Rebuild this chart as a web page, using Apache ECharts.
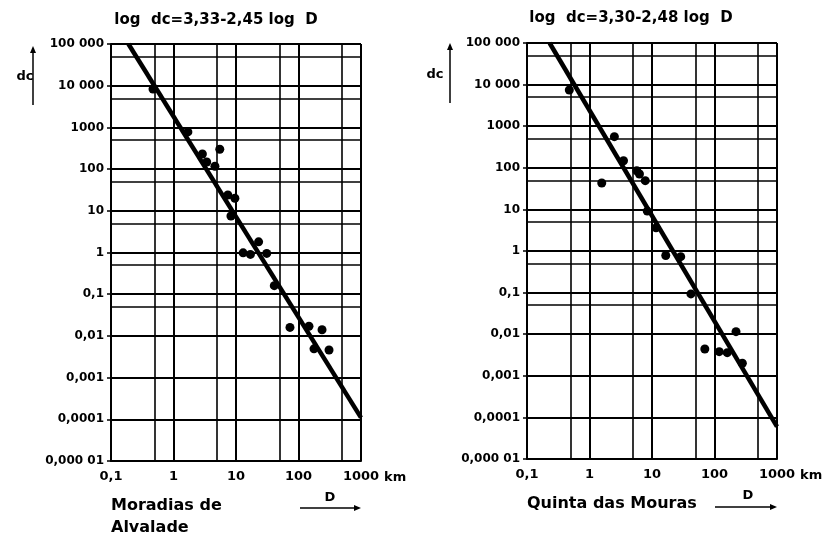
<!DOCTYPE html>
<html>
<head>
<meta charset="utf-8">
<script src="https://cdn.jsdelivr.net/npm/echarts@6/dist/echarts.min.js"></script>
<style>
  html, body { margin: 0; padding: 0; background: #fff; }
  #main { width: 826px; height: 537px; }
</style>
</head>
<body>
<div id="main"></div>
<script>
// Moradias de Alvalade: distance D (km), dc
var moradiasD  = [0.47, 1.7, 2.9, 3.4, 4.6, 5.5, 7.4, 9.6, 8.3, 13, 17, 23, 31, 41, 73, 147, 238, 177, 308]
var moradiasDc = [8300, 780, 230, 148, 117, 300, 24, 20, 7.5, 0.98, 0.9, 1.8, 0.95, 0.16, 0.016, 0.017, 0.014, 0.0049, 0.0046]
// Quinta das Mouras
var quintaD  = [0.475, 2.5, 3.5, 5.7, 6.3, 7.8, 1.57, 8.4, 11.6, 16.6, 28.8, 42, 70, 119, 160, 221, 279]
var quintaDc = [7400, 560, 148, 85, 71, 49, 43, 9.1, 3.6, 0.78, 0.73, 0.093, 0.0044, 0.0038, 0.0036, 0.0115, 0.0020]
// regression line ends [D, dc]
var moradiasFit = [[0.19, 100000], [1000, 0.00011]]
var quintaFit   = [[0.23, 100000], [1000, 0.00006]]

var titles = ['log  dc=3,33-2,45 log  D', 'log  dc=3,30-2,48 log  D']
var yTickLabels = ['0,000 01', '0,0001', '0,001', '0,01', '0,1', '1', '10', '100', '1000', '10 000', '100 000']
var xTickLabels = ['0,1', '1', '10', '100', '1000']
// extra grid lines at 5 x 10^n
var xMinorLines = [0.5, 5, 50, 500]
var yMinorLines = [0.00005, 0.0005, 0.005, 0.05, 0.5, 5, 50, 500, 5000, 50000]

var font = 'DejaVu Sans'
var dom = document.getElementById('main')
var myChart = echarts.init(dom)

function zip(a, b) {
  var out = []
  for (var i = 0; i < a.length; i++) out.push([a[i], b[i]])
  return out
}

var minorMarks = []
for (var i = 0; i < xMinorLines.length; i++) minorMarks.push({xAxis: xMinorLines[i]})
for (var j = 0; j < yMinorLines.length; j++) minorMarks.push({yAxis: yMinorLines[j]})

function xAxisOf(idx) {
  return {
    type: 'log', logBase: 10, gridIndex: idx,
    min: 0.1, max: 1000, interval: 1,
    axisLine: {lineStyle: {color: '#000', width: 2}},
    axisTick: {show: false},
    splitLine: {show: true, lineStyle: {color: '#000', width: 2}},
    axisLabel: {
      color: '#000', fontFamily: font, fontSize: 13, fontWeight: 'bold', margin: 9,
      formatter: function (v) { return xTickLabels[Math.round(Math.log10(v)) + 1] }
    }
  }
}
function yAxisOf(idx) {
  return {
    type: 'log', logBase: 10, gridIndex: idx,
    min: 0.00001, max: 100000, interval: 1,
    axisLine: {lineStyle: {color: '#000', width: 2}},
    axisTick: {show: true, length: 4, lineStyle: {color: '#000', width: 1.5}},
    splitLine: {show: true, lineStyle: {color: '#000', width: 2}},
    axisLabel: {
      color: '#000', fontFamily: font, fontSize: 12, fontWeight: 'bold', margin: 7,
      formatter: function (v) { return yTickLabels[Math.round(Math.log10(v)) + 5] }
    }
  }
}

function scatterOf(idx, data) {
  return {
    type: 'scatter', xAxisIndex: idx, yAxisIndex: idx, data: data,
    symbolSize: 9, itemStyle: {color: '#000', opacity: 1}, z: 5,
    markLine: {
      silent: true, symbol: 'none', animation: false,
      label: {show: false},
      lineStyle: {color: '#000', width: 1.6, type: 'solid', opacity: 1},
      data: minorMarks
    }
  }
}
function fitOf(idx, data) {
  return {
    type: 'line', xAxisIndex: idx, yAxisIndex: idx, data: data,
    symbol: 'none', lineStyle: {color: '#000', width: 4.5}, z: 4
  }
}

// arrow helper for the "dc" and "D" direction marks
function arrow(x1, y1, x2, y2) {
  var ang = Math.atan2(y2 - y1, x2 - x1), L = 7, W = 3
  var bx = x2 - L * Math.cos(ang), by = y2 - L * Math.sin(ang)
  return [
    {type: 'line', shape: {x1: x1, y1: y1, x2: bx, y2: by}, style: {stroke: '#000', lineWidth: 1.5}},
    {type: 'polygon', shape: {points: [[x2, y2],
      [bx + W * Math.sin(ang), by - W * Math.cos(ang)],
      [bx - W * Math.sin(ang), by + W * Math.cos(ang)]]}, style: {fill: '#000'}}
  ]
}

var txt = {fill: '#000', fontFamily: font, fontWeight: 'bold'}
var graphics = [
  {type: 'text', x: 216, y: 20, style: Object.assign({text: titles[0], fontSize: 15, align: 'center', verticalAlign: 'middle'}, txt)},
  {type: 'text', x: 631, y: 18, style: Object.assign({text: titles[1], fontSize: 15, align: 'center', verticalAlign: 'middle'}, txt)},
  {type: 'text', x: 25, y: 77, style: Object.assign({text: 'dc', fontSize: 13, align: 'center', verticalAlign: 'middle'}, txt)},
  {type: 'text', x: 435, y: 75, style: Object.assign({text: 'dc', fontSize: 13, align: 'center', verticalAlign: 'middle'}, txt)},
  {type: 'text', x: 384, y: 478, style: Object.assign({text: 'km', fontSize: 13, align: 'left', verticalAlign: 'middle'}, txt)},
  {type: 'text', x: 800, y: 476, style: Object.assign({text: 'km', fontSize: 13, align: 'left', verticalAlign: 'middle'}, txt)},
  {type: 'text', x: 111, y: 506, style: Object.assign({text: 'Moradias de', fontSize: 16, align: 'left', verticalAlign: 'middle'}, txt)},
  {type: 'text', x: 111, y: 528, style: Object.assign({text: 'Alvalade', fontSize: 16, align: 'left', verticalAlign: 'middle'}, txt)},
  {type: 'text', x: 527, y: 504, style: Object.assign({text: 'Quinta das Mouras', fontSize: 16, align: 'left', verticalAlign: 'middle'}, txt)},
  {type: 'text', x: 330, y: 498, style: Object.assign({text: 'D', fontSize: 13, align: 'center', verticalAlign: 'middle'}, txt)},
  {type: 'text', x: 748, y: 496, style: Object.assign({text: 'D', fontSize: 13, align: 'center', verticalAlign: 'middle'}, txt)}
]
graphics = graphics
  .concat(arrow(33, 105, 33, 46))
  .concat(arrow(450, 103, 450, 43))
  .concat(arrow(300, 508, 361, 508))
  .concat(arrow(715, 507, 777, 507))

var option = {
  backgroundColor: '#fff',
  animation: false,
  grid: [
    {left: 111, top: 44, width: 250, height: 417},
    {left: 527, top: 43, width: 250, height: 416}
  ],
  xAxis: [xAxisOf(0), xAxisOf(1)],
  yAxis: [yAxisOf(0), yAxisOf(1)],
  series: [
    scatterOf(0, zip(moradiasD, moradiasDc)),
    fitOf(0, moradiasFit),
    scatterOf(1, zip(quintaD, quintaDc)),
    fitOf(1, quintaFit)
  ],
  graphic: graphics
}
myChart.setOption(option, true)
</script>
</body>
</html>
